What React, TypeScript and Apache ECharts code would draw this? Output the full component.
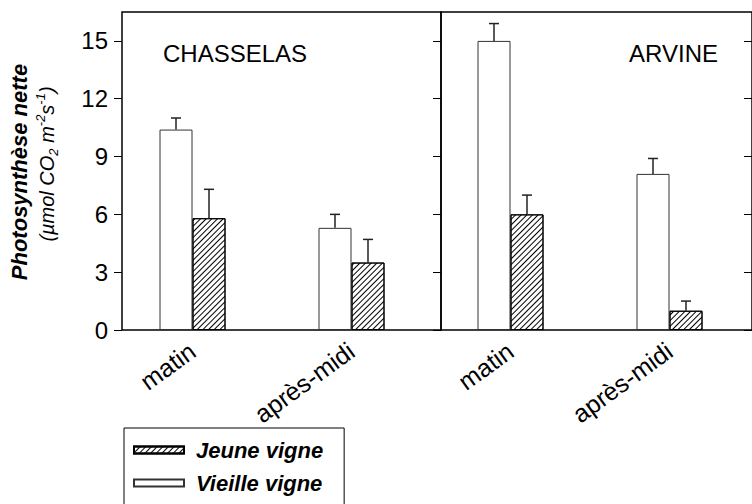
import React, { useEffect, useRef } from "react";
import * as echarts from "echarts";

const categories = ["matin", "après-midi"];
const yTicks = [0, 3, 6, 9, 12, 15];

const chasselasVieille = [10.4, 5.3];
const chasselasVieilleErr = [0.6, 0.7];
const chasselasJeune = [5.8, 3.5];
const chasselasJeuneErr = [1.5, 1.2];

const arvineVieille = [15.0, 8.1];
const arvineVieilleErr = [0.9, 0.8];
const arvineJeune = [6.0, 1.0];
const arvineJeuneErr = [1.0, 0.5];

const FONT = "'Liberation Sans', Arial, Helvetica, sans-serif";

const hatch = {
  symbol: "rect",
  symbolSize: 1,
  color: "#000",
  backgroundColor: "#fff",
  dashArrayX: [1, 0],
  dashArrayY: [1, 3],
  rotation: -Math.PI / 4,
};

function errRender(offset: number) {
  return (params: any, api: any) => {
    const x = api.value(0);
    const v = api.value(1);
    const e = api.value(2);
    const base = api.coord([x, v]);
    const top = api.coord([x, v + e]);
    const cx = base[0] + offset;
    const st = { stroke: "#222", lineWidth: 1.5 };
    return {
      type: "group",
      children: [
        { type: "line", shape: { x1: cx, y1: base[1], x2: cx, y2: top[1] }, style: st },
        { type: "line", shape: { x1: cx - 5, y1: top[1], x2: cx + 5, y2: top[1] }, style: st },
      ],
    };
  };
}

function errData(vals: number[], errs: number[]) {
  return vals.map((v, i) => [i, v, errs[i]]);
}

export default function App() {
  const ref = useRef<HTMLDivElement>(null);
  useEffect(() => {
    if (!ref.current) return;
    const chart = echarts.init(ref.current, undefined, { renderer: "svg" });
    const yBase = { type: "value", min: 0, max: 16.5, interval: 3 };
    const frameY = (gridIndex: number, position: string, inside: boolean, labels: boolean) => ({
      ...yBase,
      gridIndex,
      position,
      axisLine: { show: false },
      splitLine: { show: false },
      axisTick: {
        show: true,
        inside,
        length: 8,
        customValues: yTicks,
        lineStyle: { color: "#000", width: 1 },
      },
      axisLabel: {
        show: labels,
        customValues: yTicks,
        margin: 14,
        fontSize: 24,
        color: "#000",
        fontFamily: FONT,
      },
    });
    const barY = (gridIndex: number) => ({ ...yBase, gridIndex, show: false });
    const barX = (gridIndex: number) => ({
      type: "category",
      gridIndex,
      data: categories,
      axisLine: { show: false },
      axisTick: { show: false },
      splitLine: { show: false },
      axisLabel: {
        rotate: 36,
        margin: 18,
        fontSize: 25,
        color: "#000",
        fontFamily: FONT,
        interval: 0,
      },
    });
    const vieilleStyle = { color: "#fff", borderColor: "#333", borderWidth: 1 };
    const jeuneStyle = { color: "#fff", borderColor: "#000", borderWidth: 1, decal: hatch };
    const barSeries = (name: string, idx: number, data: number[], style: any) => ({
      type: "bar",
      name,
      xAxisIndex: idx,
      yAxisIndex: idx,
      data,
      barWidth: 33,
      barGap: "0%",
      itemStyle: style,
      emphasis: { disabled: true },
    });
    const errSeries = (name: string, idx: number, vals: number[], errs: number[], offset: number) => ({
      type: "custom",
      name,
      xAxisIndex: idx,
      yAxisIndex: idx,
      data: errData(vals, errs),
      encode: { x: 0, y: 1 },
      renderItem: errRender(offset),
      z: 3,
      silent: true,
    });
    chart.setOption({
      animation: false,
      textStyle: { fontFamily: FONT },
      grid: [
        { left: 122, top: 12, width: 319, height: 318, show: true, borderColor: "#000", borderWidth: 1.5 },
        { left: 441, top: 12, width: 316, height: 318, show: true, borderColor: "#000", borderWidth: 1.5 },
        { left: 113, top: 12, width: 318, height: 318 },
        { left: 431, top: 12, width: 318, height: 318 },
      ],
      xAxis: [
        { type: "value", gridIndex: 0, show: false, min: 0, max: 1 },
        { type: "value", gridIndex: 1, show: false, min: 0, max: 1 },
        barX(2),
        barX(3),
      ],
      yAxis: [
        frameY(0, "left", false, true),
        frameY(1, "left", false, false),
        barY(2),
        barY(3),
        { ...frameY(1, "right", true, false) },
      ],
      legend: {
        left: 124,
        top: 428,
        height: 150,
        orient: "vertical",
        data: ["Jeune vigne", "Vieille vigne"],
        itemWidth: 50,
        itemHeight: 7,
        itemGap: 11,
        icon: "rect",
        borderColor: "#000",
        borderWidth: 1,
        padding: [11, 21, 40, 9],
        selectedMode: false,
        textStyle: {
          fontSize: 22,
          fontWeight: "bold",
          fontStyle: "italic",
          color: "#000",
          fontFamily: FONT,
          lineHeight: 22,
          padding: [0, 0, 0, 7],
        },
      },
      graphic: [
        {
          type: "text",
          x: 235,
          y: 53,
          style: {
            text: "CHASSELAS",
            fontSize: 24,
            fontFamily: FONT,
            fill: "#000",
            align: "center",
            verticalAlign: "middle",
          },
        },
        {
          type: "text",
          x: 718,
          y: 53,
          style: {
            text: "ARVINE",
            fontSize: 24,
            fontFamily: FONT,
            fill: "#000",
            align: "right",
            verticalAlign: "middle",
          },
        },
        {
          type: "text",
          x: 19,
          y: 172,
          rotation: Math.PI / 2,
          style: {
            text: "Photosynthèse nette",
            fontSize: 22,
            fontWeight: "bold",
            fontStyle: "italic",
            fontFamily: FONT,
            fill: "#000",
            align: "center",
            verticalAlign: "middle",
          },
        },
        {
          type: "text",
          x: 47,
          y: 164,
          rotation: Math.PI / 2,
          style: {
            text: "(µmol CO{sub|2} m{sup|-2}s{sup|-1})",
            fontSize: 20,
            fontStyle: "italic",
            fontFamily: FONT,
            fill: "#000",
            align: "center",
            verticalAlign: "middle",
            lineHeight: 26,
            rich: {
              sub: { fontSize: 13, fontStyle: "italic", fontFamily: FONT, fill: "#000", verticalAlign: "bottom", lineHeight: 13 },
              sup: { fontSize: 13, fontStyle: "italic", fontFamily: FONT, fill: "#000", verticalAlign: "top", lineHeight: 13 },
            },
          },
        },
      ],
      series: [
        barSeries("Vieille vigne", 2, chasselasVieille, vieilleStyle),
        barSeries("Jeune vigne", 2, chasselasJeune, jeuneStyle),
        errSeries("errCV", 2, chasselasVieille, chasselasVieilleErr, -16.5),
        errSeries("errCJ", 2, chasselasJeune, chasselasJeuneErr, 16.5),
        barSeries("Vieille vigne", 3, arvineVieille, vieilleStyle),
        barSeries("Jeune vigne", 3, arvineJeune, jeuneStyle),
        errSeries("errAV", 3, arvineVieille, arvineVieilleErr, -16.5),
        errSeries("errAJ", 3, arvineJeune, arvineJeuneErr, 16.5),
      ],
    });
    return () => chart.dispose();
  }, []);
  return <div ref={ref} style={{ position: "absolute", left: 0, top: 0, width: 752, height: 504 }} />;
}
